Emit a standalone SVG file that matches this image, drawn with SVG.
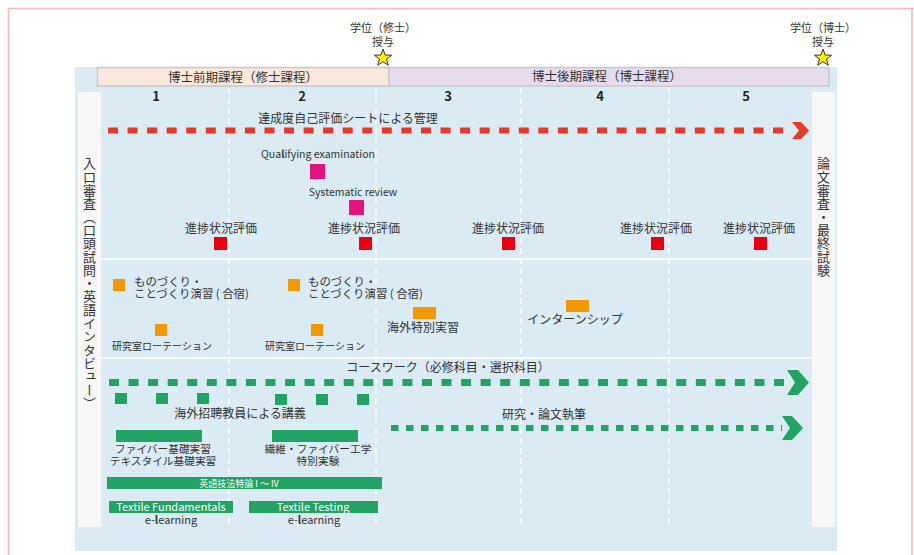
<svg xmlns="http://www.w3.org/2000/svg" width="914" height="555" viewBox="0 0 914 555">
<defs>
<style>
text{font-family:"Noto Sans CJK JP","Noto Sans",sans-serif;fill:#333;}
.c{text-anchor:middle;}
.s12{font-size:12px;}
.s11{font-size:11px;}
.s10{font-size:10px;}
.two{font-size:11.4px;}
.two2{font-size:10.7px;}
.yr{font-size:13px;font-weight:bold;text-anchor:middle;fill:#222;}
.wt{fill:#fff;text-anchor:middle;}
.vdash{stroke:#fff;stroke-width:1.5;stroke-dasharray:6 4;}
.hline{stroke:#fff;stroke-width:1.5;}
.red{fill:#e60012;}
.pink{fill:#e4157a;}
.org{fill:#f39800;}
.grn{fill:#22a363;}
.star{fill:#fff100;stroke:#333;stroke-width:1;}
.vt{writing-mode:vertical-rl;font-size:13px;letter-spacing:0.3px;}
</style>
<polygon id="starShape" points="0,-9 2.17,-2.99 8.56,-2.78 3.52,1.14 5.29,7.28 0,3.7 -5.29,7.28 -3.52,1.14 -8.56,-2.78 -2.17,-2.99"/>
</defs>
<rect x="0" y="0" width="914" height="555" fill="#fff"/>
<g id="frame">
<line x1="8.5" y1="8" x2="8.5" y2="555" stroke="#f5b5b9" stroke-width="1.5"/>
<line x1="8" y1="8.5" x2="914" y2="8.5" stroke="#f5b5b9" stroke-width="1.5"/>
<line x1="912" y1="8" x2="912" y2="555" stroke="#f5b5b9" stroke-width="1.5"/>
</g>
<g id="panel">
<rect x="75" y="67" width="762" height="484" fill="#daebf3"/>
<rect x="78" y="92" width="23" height="435" fill="#f7f7f7"/>
<rect x="812" y="92" width="23" height="435" fill="#f7f7f7"/>
<line class="vdash" x1="229" y1="88" x2="229" y2="528"/>
<line class="vdash" x1="376" y1="88" x2="376" y2="528"/>
<line class="vdash" x1="521" y1="88" x2="521" y2="528"/>
<line class="vdash" x1="669" y1="88" x2="669" y2="528"/>
<line class="hline" x1="101" y1="259" x2="812" y2="259"/>
<line class="hline" x1="101" y1="358" x2="812" y2="358"/>
</g>
<g id="header-master">
<rect x="97.5" y="67.5" width="291.5" height="18.5" fill="#fbe8dc" stroke="#c8c8c8" stroke-width="1.5"/>
<text class="c" x="243" y="81.5" style="font-size:12.5px">博士前期課程（修士課程）</text>
</g>
<g id="header-doctor">
<rect x="389" y="67.5" width="440" height="18.5" fill="#e7dced" stroke="#c8c8c8" stroke-width="1.5"/>
<text class="c" x="607" y="81" style="font-size:12.5px">博士後期課程（博士課程）</text>
</g>
<g id="years">
<text class="yr" x="156" y="101">1</text>
<text class="yr" x="302" y="101">2</text>
<text class="yr" x="448" y="101">3</text>
<text class="yr" x="600" y="101">4</text>
<text class="yr" x="746" y="101">5</text>
</g>
<g id="degree-master">
<text class="c s11" x="383" y="32">学位（修士）</text>
<text class="c s11" x="383" y="45.5">授与</text>
<use href="#starShape" class="star" x="383" y="58"/>
</g>
<g id="degree-doctor">
<text class="c s11" x="823" y="32">学位（博士）</text>
<text class="c s11" x="823" y="45.5">授与</text>
<use href="#starShape" class="star" x="823" y="58"/>
</g>
<g id="entrance-exam">
<text class="vt" x="89.5" y="157">入口審査（口頭試問・英語インタビュー）</text>
</g>
<g id="final-exam">
<text class="vt" x="823.5" y="157">論文審査・最終試験</text>
</g>
<g id="connectors">
<line x1="108" y1="130.5" x2="792" y2="130.5" stroke="#e83828" stroke-width="6" stroke-dasharray="10 9.56"/>
<polygon points="792,122 801,122 809,130.5 801,139 792,139 799,130.5" fill="#e83828"/>
<line x1="109" y1="382.5" x2="787" y2="382.5" stroke="#22a363" stroke-width="7" stroke-dasharray="10 9.56"/>
<polygon points="787,370 798,370 809,382.5 798,395 787,395 795,382.5" fill="#22a363"/>
<line x1="391" y1="428" x2="782" y2="428" stroke="#22a363" stroke-width="6" stroke-dasharray="7.5 7.5"/>
<polygon points="782,416 792,416 803,428 792,440 782,440 790,428" fill="#22a363"/>
</g>
<g id="self-eval">
<text class="c s12" x="348" y="123">達成度自己評価シートによる管理</text>
</g>
<g id="qualifying">
<text class="c" x="318" y="158" style="font-size:10.5px">Qua<tspan font-weight="bold">l</tspan>ifying examination</text>
<rect class="pink" x="310" y="164" width="15" height="15"/>
</g>
<g id="systematic">
<text class="c" x="353" y="196" style="font-size:10.5px">Systematic review</text>
<rect class="pink" x="349" y="200" width="15" height="15"/>
</g>
<g id="progress-1"><text class="c s12" x="221" y="233">進捗状況評価</text><rect class="red" x="214" y="237" width="13" height="13"/></g>
<g id="progress-2"><text class="c s12" x="364" y="233">進捗状況評価</text><rect class="red" x="359" y="237" width="13" height="13"/></g>
<g id="progress-3"><text class="c s12" x="508" y="233">進捗状況評価</text><rect class="red" x="502" y="237" width="13" height="13"/></g>
<g id="progress-4"><text class="c s12" x="656" y="233">進捗状況評価</text><rect class="red" x="651" y="237" width="13" height="13"/></g>
<g id="progress-5"><text class="c s12" x="759" y="233">進捗状況評価</text><rect class="red" x="754" y="237" width="13" height="13"/></g>
<g id="monozukuri-1">
<rect class="org" x="113" y="279" width="12" height="12"/>
<text class="two" x="134" y="285.5">ものづくり・</text>
<text class="two" x="134" y="298">ことづくり演習 ( 合宿)</text>
</g>
<g id="monozukuri-2">
<rect class="org" x="288" y="279" width="12" height="12"/>
<text class="two" x="308" y="285.5">ものづくり・</text>
<text class="two" x="308" y="298">ことづくり演習 ( 合宿)</text>
</g>
<g id="rotation-1">
<rect class="org" x="155" y="324" width="12" height="12"/>
<text class="c s10" x="162" y="349.5">研究室ローテーション</text>
</g>
<g id="rotation-2">
<rect class="org" x="311" y="324" width="12" height="12"/>
<text class="c s10" x="315" y="349.5">研究室ローテーション</text>
</g>
<g id="overseas-training">
<rect class="org" x="413" y="307" width="23" height="12"/>
<text class="c s12" x="423" y="332">海外特別実習</text>
</g>
<g id="internship">
<rect class="org" x="566" y="300" width="23" height="12"/>
<text class="c s12" x="575" y="324">インターンシップ</text>
</g>
<g id="coursework">
<text class="c s12" x="448" y="372">コースワーク（必修科目・選択科目）</text>
</g>
<g id="guest-lectures">
<rect class="grn" x="115" y="393" width="12" height="11"/>
<rect class="grn" x="156" y="393" width="12" height="11"/>
<rect class="grn" x="197" y="393" width="12" height="11"/>
<rect class="grn" x="275" y="394" width="12" height="11"/>
<rect class="grn" x="316" y="394" width="12" height="11"/>
<rect class="grn" x="357" y="394" width="12" height="11"/>
<text class="c s12" x="240" y="418">海外招聘教員による講義</text>
</g>
<g id="research">
<text class="c s12" x="544" y="419">研究・論文執筆</text>
</g>
<g id="fiber-basics">
<rect class="grn" x="116" y="430" width="86" height="12"/>
<text class="c two2" x="163" y="452.5">ファイバー基礎実習</text>
<text class="c two2" x="163" y="465">テキスタイル基礎実習</text>
</g>
<g id="fiber-special">
<rect class="grn" x="272" y="430" width="86" height="12"/>
<text class="c two2" x="318" y="452.5">繊維・ファイバー工学</text>
<text class="c two2" x="318" y="465">特別実験</text>
</g>
<g id="english-tech">
<rect class="grn" x="107" y="477" width="275" height="12"/>
<text class="wt" x="239" y="486.5" style="font-size:9px">英語技法特論 I ～ IV</text>
</g>
<g id="textile-fundamentals">
<rect class="grn" x="109" y="501" width="124" height="12"/>
<text class="wt" x="171" y="511" style="font-size:11px">Textile Fundamentals</text>
<text class="c s11" x="171" y="524">e-<tspan font-weight="bold">l</tspan>earning</text>
</g>
<g id="textile-testing">
<rect class="grn" x="249" y="501" width="129" height="12"/>
<text class="wt" x="313" y="511" style="font-size:11px">Textile Testing</text>
<text class="c s11" x="314" y="524">e-<tspan font-weight="bold">l</tspan>earning</text>
</g>
</svg>
